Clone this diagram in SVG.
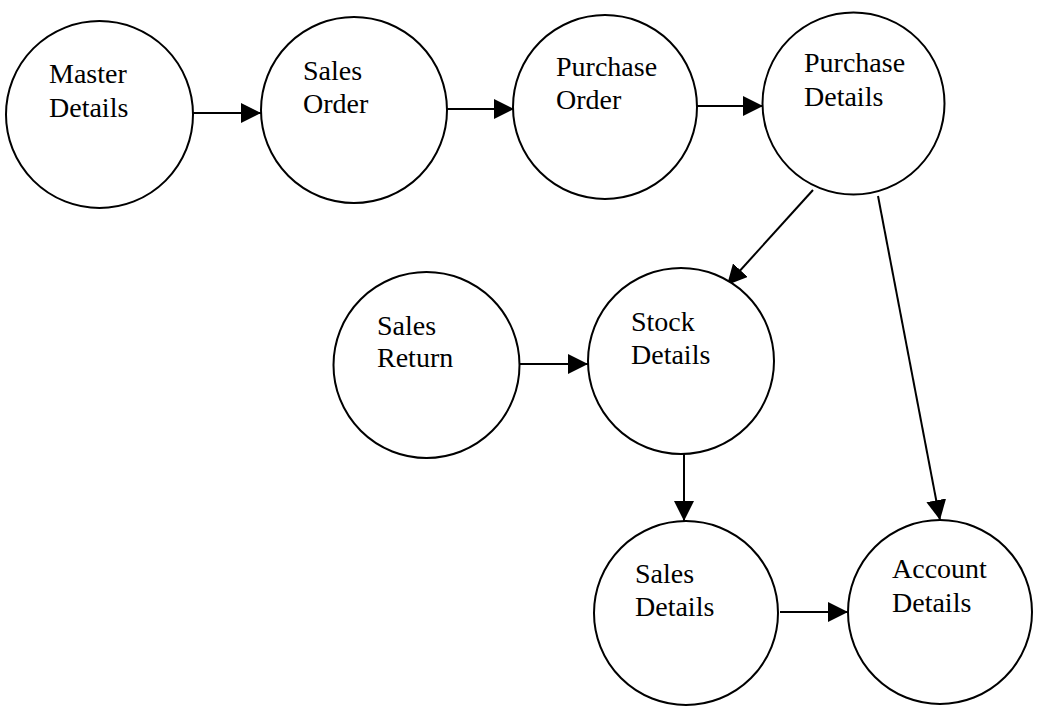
<svg xmlns="http://www.w3.org/2000/svg" width="1037" height="706" viewBox="0 0 1037 706">
<style>
.node circle{fill:#fff;stroke:#000;stroke-width:2}
.node text{font-family:"Liberation Serif","Times New Roman",serif;font-size:28px;fill:#000}
.conn line{stroke:#000;stroke-width:2;fill:none}
</style>
<defs>
<marker id="arr" viewBox="0 0 20 20" refX="20" refY="10" markerWidth="20" markerHeight="20" markerUnits="userSpaceOnUse" orient="auto">
<path d="M0,0 L20,10 L0,20 Z" fill="#000"/>
</marker>
</defs>
<rect width="1037" height="706" fill="#fff"/>
<g id="connectors" class="conn">
<line x1="193" y1="113" x2="261" y2="113" marker-end="url(#arr)"/>
<line x1="447" y1="109" x2="514" y2="109" marker-end="url(#arr)"/>
<line x1="696" y1="106" x2="763" y2="106" marker-end="url(#arr)"/>
<line x1="813" y1="190" x2="727" y2="285" marker-end="url(#arr)"/>
<line x1="878" y1="196" x2="940" y2="520" marker-end="url(#arr)"/>
<line x1="520" y1="364" x2="588" y2="364" marker-end="url(#arr)"/>
<line x1="684" y1="454" x2="684" y2="521" marker-end="url(#arr)"/>
<line x1="780" y1="612" x2="848" y2="612" marker-end="url(#arr)"/>
</g>
<g id="master-details" class="node"><circle cx="99.5" cy="114.5" r="93.5"/><text x="49" y="83">Master</text><text x="49" y="117">Details</text></g>
<g id="sales-order" class="node"><circle cx="354" cy="110" r="93"/><text x="303" y="80">Sales</text><text x="303" y="113">Order</text></g>
<g id="purchase-order" class="node"><circle cx="605" cy="107" r="92"/><text x="556" y="76">Purchase</text><text x="556" y="109">Order</text></g>
<g id="purchase-details" class="node"><circle cx="853.5" cy="103.5" r="91"/><text x="804" y="72">Purchase</text><text x="804" y="106">Details</text></g>
<g id="sales-return" class="node"><circle cx="426.5" cy="365" r="93"/><text x="377" y="335">Sales</text><text x="377" y="367">Return</text></g>
<g id="stock-details" class="node"><circle cx="681" cy="361" r="93"/><text x="631" y="331">Stock</text><text x="631" y="364">Details</text></g>
<g id="sales-details" class="node"><circle cx="686" cy="613" r="92"/><text x="635" y="583">Sales</text><text x="635" y="616">Details</text></g>
<g id="account-details" class="node"><circle cx="940" cy="612" r="92"/><text x="892" y="578">Account</text><text x="892" y="612">Details</text></g>
</svg>
